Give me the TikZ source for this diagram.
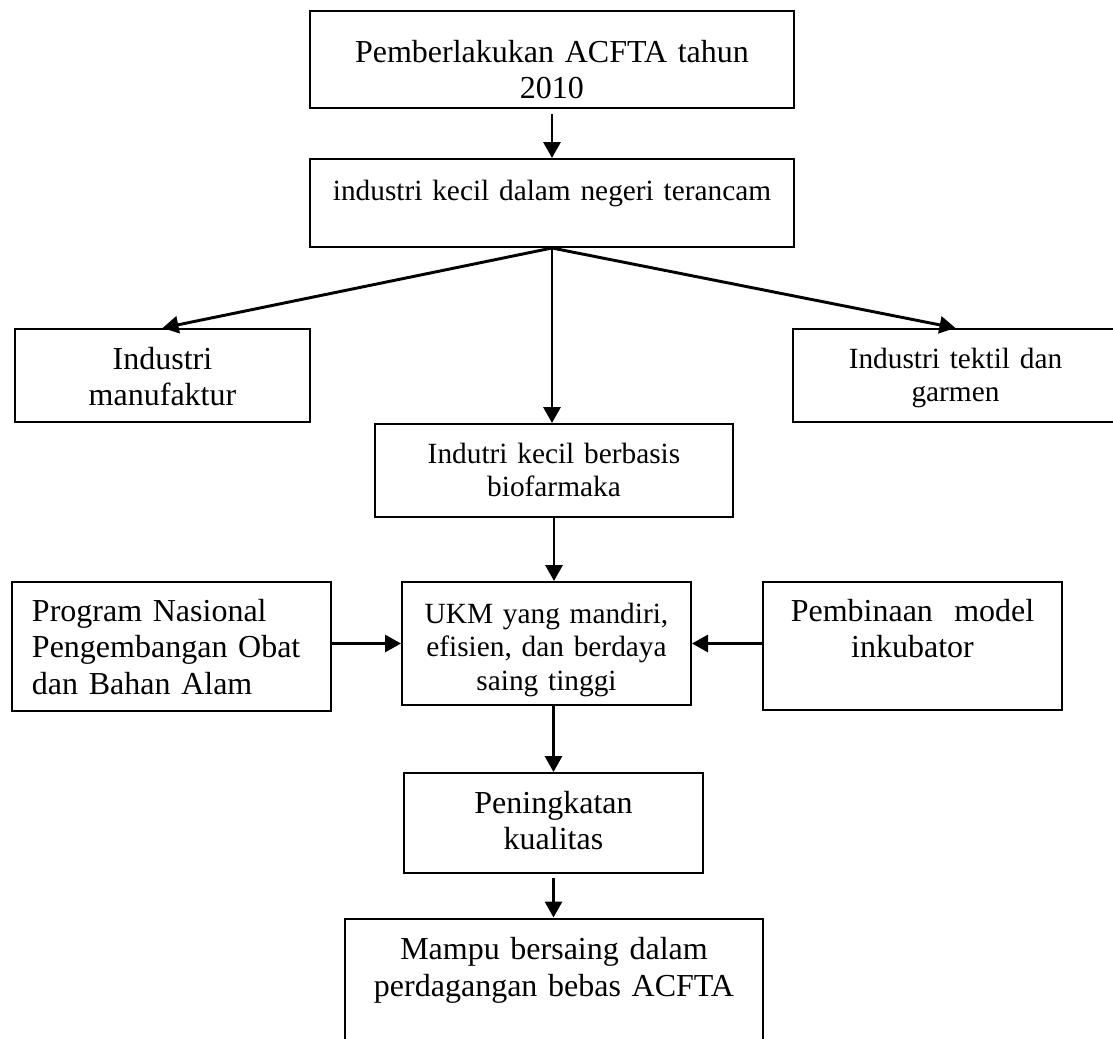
\documentclass[tikz,border=0pt]{standalone}
\usepackage{fontspec}
\setmainfont{Liberation Serif}
\usetikzlibrary{arrows.meta}

\begin{document}
\begin{tikzpicture}[x=0.375pt,y=-0.375pt]
	\tikzstyle{every node}=[draw, line width=0.75pt, inner sep=0pt, align=center]
	\tikzstyle{big}=[font=\fontsize{12}{13.8}\selectfont]
	\tikzstyle{small}=[font=\fontsize{11}{12.65}\selectfont]
	\tikzstyle{arr}=[line width=1.1pt, -{Triangle[length=6pt,width=6.4pt]}]
	\useasboundingbox (0,0) rectangle (1113,1039);
	\draw (552,59.5) node (acfta) [big, text width=181.5pt, text height=19.125pt, text depth=17.25pt] {Pemberlakukan ACFTA tahun\\2010};
	\draw (552,203) node (threat) [small, text width=181.5pt, text height=15.375pt, text depth=17.625pt] {industri kecil dalam negeri terancam};
	\draw (162.5,375.5) node (manuf) [big, text width=110.625pt, text height=15pt, text depth=19.875pt] {Industri\\manufaktur};
	\draw (955.5,375.5) node (tekstil) [small, text width=121.875pt, text height=14.625pt, text depth=20.25pt] {Industri tektil dan\\garmen};
	\draw (554,470.5) node (bio) [small, text width=134.25pt, text height=14.625pt, text depth=20.25pt] {Indutri kecil berbasis\\biofarmaka};
	\draw (546.5,643.5) node (ukm) [small, text width=108.375pt, text height=15.375pt, text depth=30.75pt] {UKM yang mandiri,\\efisien, dan berdaya\\saing tinggi};
	\draw (171.5,646.5) node (program) [big, align=left, inner xsep=7.5pt, text width=104.625pt, text height=14.625pt, text depth=33.75pt] {Program Nasional\\Pengembangan Obat\\dan Bahan Alam};
	\draw (912.5,646) node (inkubator) [big, text width=112.125pt, text height=14.625pt, text depth=33.375pt] {Pembinaan\ \ model\\inkubator};
	\draw (553.5,823) node (mutu) [big, text width=112.125pt, text height=15pt, text depth=22.5pt] {Peningkatan\\kualitas};
	\draw (554,994.5) node (mampu) [big, text width=156.75pt, text height=15.375pt, text depth=41.625pt] {Mampu bersaing dalam\\perdagangan bebas ACFTA};
	\draw [arr, shorten <=2pt] (acfta) -- (threat);
	\draw [arr] (threat.south) -- (manuf.north);
	\draw [arr] (threat.south) -- (tekstil.north);
	\draw [arr] (threat.south) -- (threat.south |- bio.north);
	\draw [arr] (bio) -- (bio |- ukm.north);
	\draw [arr] (program.east |- ukm.west) -- (ukm.west);
	\draw [arr] (inkubator.west |- ukm.east) -- (ukm.east);
	\draw [arr] (mutu.north |- ukm.south) -- (mutu.north);
	\draw [arr, shorten <=1.5pt] (mutu.south) -- (mutu.south |- mampu.north);
\end{tikzpicture}
\end{document}
